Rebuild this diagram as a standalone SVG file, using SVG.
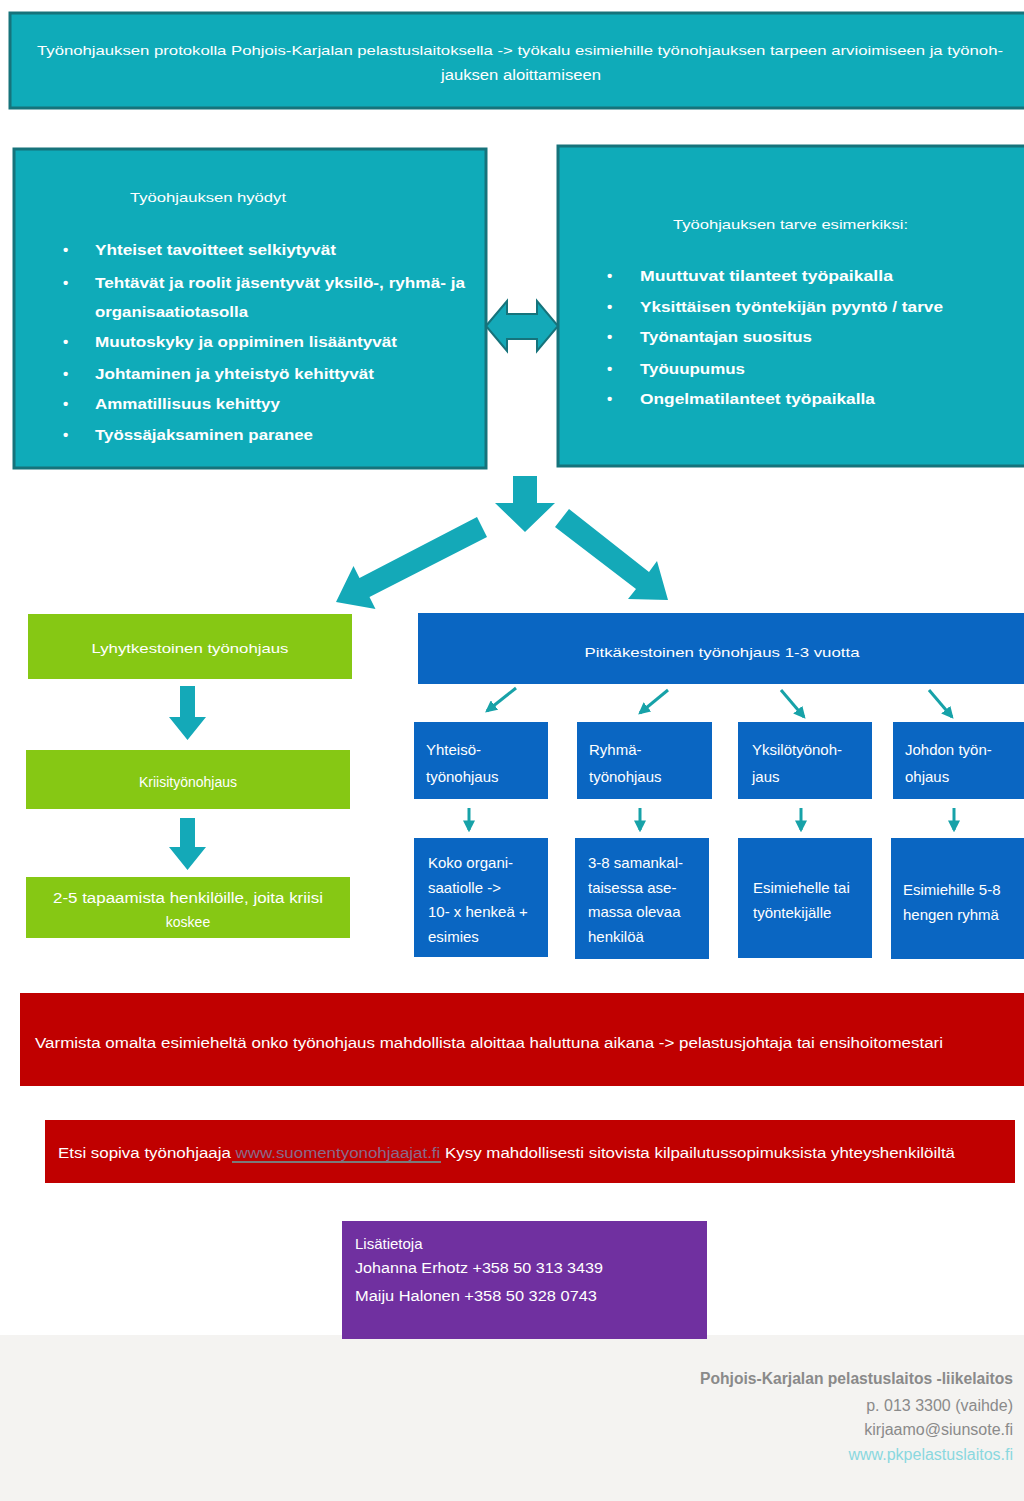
<svg xmlns="http://www.w3.org/2000/svg" width="1024" height="1501" viewBox="0 0 1024 1501">
<defs>
<style>
text{font-family:"Liberation Sans","Open Sans",Arial,sans-serif;fill:#ffffff;}
.t13{font-size:13px;}
.t14{font-size:14px;}
.t15{font-size:15px;}
.b{font-weight:bold;}
.teal{fill:#0fabb9;stroke:#16737b;stroke-width:3;}
.green{fill:#86c814;}
.blue{fill:#0a66c2;}
.red{fill:#c00000;}
.purple{fill:#7030a0;}
.tarrow{fill:#14a9b8;}
.bul{font-size:15px;font-weight:bold;}
.foot{fill:#8a8a8a;font-size:16px;}
</style>
<marker id="ah" viewBox="0 0 10 10" refX="8" refY="5" markerWidth="4" markerHeight="4" orient="auto"><path d="M0,0 L10,5 L0,10 z" fill="#17a2a8"/></marker>
</defs>
<rect width="1024" height="1501" fill="#ffffff"/>
<rect x="0" y="1335" width="1024" height="166" fill="#f4f3f1"/>

<g id="banner">
<rect class="teal" x="10" y="13" width="1020" height="95"/>
<text class="t13" x="37" y="55" textLength="966" lengthAdjust="spacingAndGlyphs">Työnohjauksen protokolla Pohjois-Karjalan pelastuslaitoksella -&gt; työkalu esimiehille työnohjauksen tarpeen arvioimiseen ja työnoh-</text>
<text class="t14" x="441" y="80" textLength="160" lengthAdjust="spacingAndGlyphs">jauksen aloittamiseen</text>
</g>

<g id="hyodyt">
<rect class="teal" x="14" y="149" width="472" height="319"/>
<text class="t13" x="130" y="202" textLength="156" lengthAdjust="spacingAndGlyphs">Työohjauksen hyödyt</text>
<g class="bul">
<text x="63" y="255">•</text><text x="95" y="255" textLength="241" lengthAdjust="spacingAndGlyphs">Yhteiset tavoitteet selkiytyvät</text>
<text x="63" y="288">•</text><text x="95" y="288" textLength="370" lengthAdjust="spacingAndGlyphs">Tehtävät ja roolit jäsentyvät yksilö-, ryhmä- ja</text>
<text x="95" y="317" textLength="153" lengthAdjust="spacingAndGlyphs">organisaatiotasolla</text>
<text x="63" y="347">•</text><text x="95" y="347" textLength="302" lengthAdjust="spacingAndGlyphs">Muutoskyky ja oppiminen lisääntyvät</text>
<text x="63" y="379">•</text><text x="95" y="379" textLength="279" lengthAdjust="spacingAndGlyphs">Johtaminen ja yhteistyö kehittyvät</text>
<text x="63" y="409">•</text><text x="95" y="409" textLength="185" lengthAdjust="spacingAndGlyphs">Ammatillisuus kehittyy</text>
<text x="63" y="440">•</text><text x="95" y="440" textLength="218" lengthAdjust="spacingAndGlyphs">Työssäjaksaminen paranee</text>
</g>
</g>

<g id="tarve">
<rect class="teal" x="558" y="146" width="470" height="320"/>
<text class="t13" x="673" y="229" textLength="235" lengthAdjust="spacingAndGlyphs">Työohjauksen tarve esimerkiksi:</text>
<g class="bul">
<text x="607" y="281">•</text><text x="640" y="281" textLength="253" lengthAdjust="spacingAndGlyphs">Muuttuvat tilanteet työpaikalla</text>
<text x="607" y="312">•</text><text x="640" y="312" textLength="303" lengthAdjust="spacingAndGlyphs">Yksittäisen työntekijän pyyntö / tarve</text>
<text x="607" y="342">•</text><text x="640" y="342" textLength="172" lengthAdjust="spacingAndGlyphs">Työnantajan suositus</text>
<text x="607" y="374">•</text><text x="640" y="374" textLength="105" lengthAdjust="spacingAndGlyphs">Työuupumus</text>
<text x="607" y="404">•</text><text x="640" y="404" textLength="235" lengthAdjust="spacingAndGlyphs">Ongelmatilanteet työpaikalla</text>
</g>
</g>

<g id="lyhyt">
<rect class="green" x="28" y="614" width="324" height="65"/>
<text class="t13" x="190" y="653" text-anchor="middle" textLength="197" lengthAdjust="spacingAndGlyphs">Lyhytkestoinen työnohjaus</text>
</g>
<g id="kriisi">
<rect class="green" x="26" y="750" width="324" height="59"/>
<text class="t14" x="188" y="787" text-anchor="middle">Kriisityönohjaus</text>
</g>
<g id="tapaamista">
<rect class="green" x="26" y="877" width="324" height="61"/>
<text class="t14" x="188" y="903" text-anchor="middle" textLength="270" lengthAdjust="spacingAndGlyphs">2-5 tapaamista henkilöille, joita kriisi</text>
<text class="t14" x="188" y="927" text-anchor="middle">koskee</text>
</g>

<g id="pitka">
<rect class="blue" x="418" y="613" width="610" height="71"/>
<text class="t13" x="722" y="657" text-anchor="middle" textLength="275" lengthAdjust="spacingAndGlyphs">Pitkäkestoinen työnohjaus 1-3 vuotta</text>
</g>
<g id="yhteiso">
<rect class="blue" x="414" y="722" width="134" height="77"/>
<text class="t15" x="426" y="755">Yhteisö-</text><text class="t15" x="426" y="782">työnohjaus</text>
</g>
<g id="ryhma">
<rect class="blue" x="577" y="722" width="135" height="77"/>
<text class="t15" x="589" y="755">Ryhmä-</text><text class="t15" x="589" y="782">työnohjaus</text>
</g>
<g id="yksilo">
<rect class="blue" x="738" y="722" width="134" height="77"/>
<text class="t15" x="752" y="755">Yksilötyönoh-</text><text class="t15" x="752" y="782">jaus</text>
</g>
<g id="johdon">
<rect class="blue" x="893" y="722" width="135" height="77"/>
<text class="t15" x="905" y="755">Johdon työn-</text><text class="t15" x="905" y="782">ohjaus</text>
</g>
<g id="koko">
<rect class="blue" x="414" y="838" width="134" height="119"/>
<text class="t15" x="428" y="868">Koko organi-</text>
<text class="t15" x="428" y="893">saatiolle -&gt;</text>
<text class="t15" x="428" y="917">10- x henkeä +</text>
<text class="t15" x="428" y="942">esimies</text>
</g>
<g id="samankal">
<rect class="blue" x="575" y="838" width="134" height="121"/>
<text class="t15" x="588" y="868">3-8 samankal-</text>
<text class="t15" x="588" y="893">taisessa ase-</text>
<text class="t15" x="588" y="917">massa olevaa</text>
<text class="t15" x="588" y="942">henkilöä</text>
</g>
<g id="esimiehelle">
<rect class="blue" x="738" y="838" width="134" height="120"/>
<text class="t15" x="753" y="893">Esimiehelle tai</text>
<text class="t15" x="753" y="918">työntekijälle</text>
</g>
<g id="esimiehille">
<rect class="blue" x="891" y="838" width="137" height="121"/>
<text class="t15" x="903" y="895">Esimiehille 5-8</text>
<text class="t15" x="903" y="920">hengen ryhmä</text>
</g>

<g id="varmista">
<rect class="red" x="20" y="993" width="1008" height="93"/>
<text class="t14" x="35" y="1048" textLength="908" lengthAdjust="spacingAndGlyphs">Varmista omalta esimieheltä onko työnohjaus mahdollista aloittaa haluttuna aikana -&gt;  pelastusjohtaja tai ensihoitomestari</text>
</g>
<g id="etsi">
<rect class="red" x="45" y="1120" width="970" height="63"/>
<text class="t14" x="58" y="1158" textLength="897" lengthAdjust="spacingAndGlyphs">Etsi sopiva työnohjaaja <tspan fill="#8a6a8a">www.suomentyonohjaajat.fi</tspan> Kysy mahdollisesti sitovista kilpailutussopimuksista yhteyshenkilöiltä</text>
<line x1="232" y1="1162" x2="441" y2="1162" stroke="#7a7a7a" stroke-width="2"/>
</g>
<g id="lisatietoja">
<rect class="purple" x="342" y="1221" width="365" height="118"/>
<text class="t15" x="355" y="1249">Lisätietoja</text>
<text class="t14" x="355" y="1273" textLength="248" lengthAdjust="spacingAndGlyphs">Johanna Erhotz +358 50 313 3439</text>
<text class="t14" x="355" y="1301" textLength="242" lengthAdjust="spacingAndGlyphs">Maiju Halonen +358 50 328 0743</text>
</g>
<g id="footer">
<text class="foot b" x="1013" y="1384" text-anchor="end" textLength="313" lengthAdjust="spacingAndGlyphs">Pohjois-Karjalan pelastuslaitos -liikelaitos</text>
<text class="foot" x="1013" y="1411" text-anchor="end">p. 013 3300 (vaihde)</text>
<text class="foot" x="1013" y="1435" text-anchor="end">kirjaamo@siunsote.fi</text>
<text class="foot" x="1013" y="1460" text-anchor="end" style="fill:#8ad8df">www.pkpelastuslaitos.fi</text>
</g>

<g id="connectors">
<polygon class="tarrow" stroke="#16737b" stroke-width="2" points="486,326 507,301 507,314 537,314 537,301 558,326 537,351 537,339 507,339 507,351"/>
<polygon class="tarrow" points="513,476 537,476 537,503 555,503 525,532 495,503 513,503"/>
<polygon class="tarrow" points="477,517 487,537 369.5,597 375.5,609 336,602 353.5,566 359.5,578"/>
<polygon class="tarrow" points="569,509 555,527 636,589 628,599 668,600 657,561 649,572"/>
<polygon class="tarrow" points="180,686 195,686 195,717 206,717 187.5,740 169,717 180,717"/>
<polygon class="tarrow" points="180,818 195,818 195,847 206,847 187.5,870 169,847 180,847"/>
<g stroke="#17a2a8" stroke-width="3" fill="none" marker-end="url(#ah)">
<line x1="516" y1="688" x2="487" y2="711"/>
<line x1="668" y1="690" x2="640" y2="713"/>
<line x1="781" y1="690" x2="804" y2="717"/>
<line x1="929" y1="690" x2="952" y2="717"/>
<line x1="469" y1="808" x2="469" y2="830"/>
<line x1="640" y1="808" x2="640" y2="830"/>
<line x1="801" y1="808" x2="801" y2="830"/>
<line x1="954" y1="808" x2="954" y2="830"/>
</g>
</g>
</svg>
